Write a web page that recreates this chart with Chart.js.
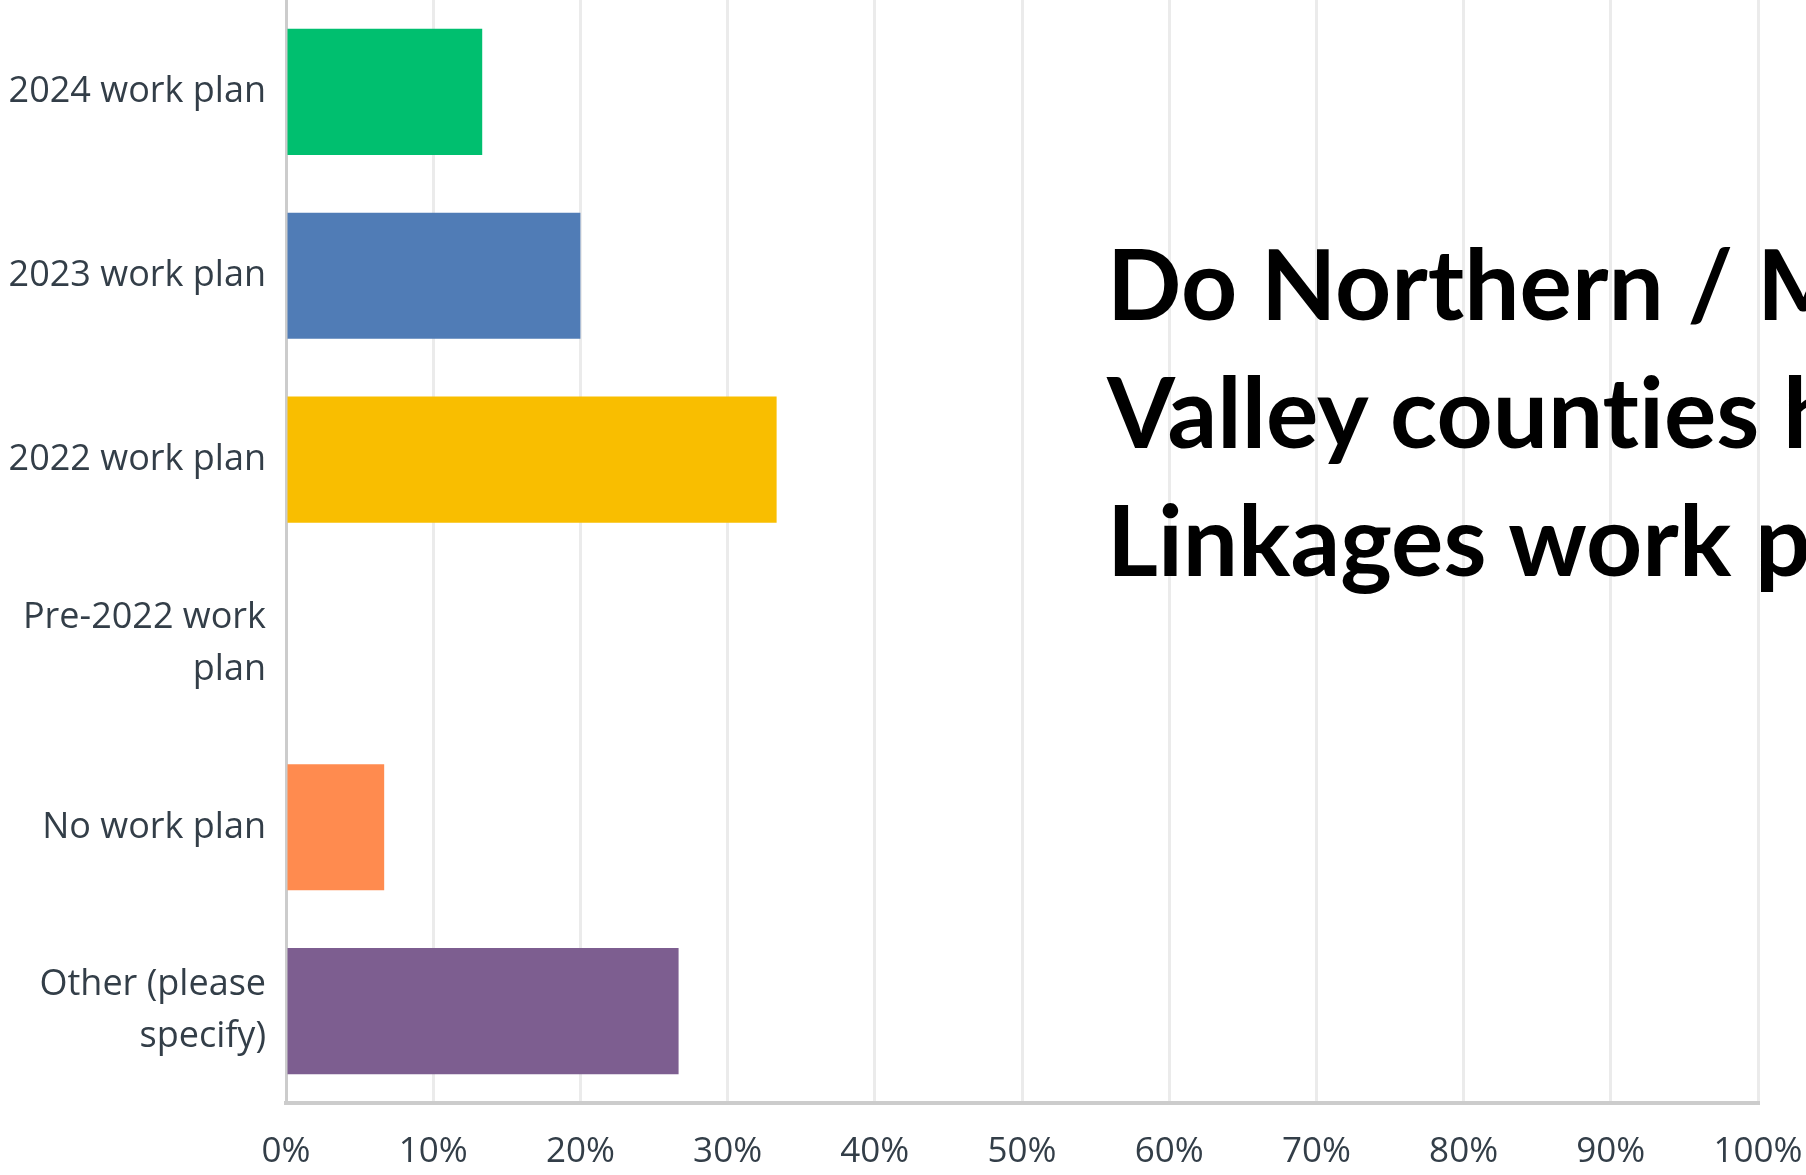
<!DOCTYPE html>
<html>
<head>
<meta charset="utf-8">
<script src="https://cdn.jsdelivr.net/npm/chart.js@4/dist/chart.umd.min.js"></script>
<style>
    html, body { margin: 0; padding: 0; background: #fff; overflow: hidden; }
    #wrap { position: relative; width: 1806px; height: 1175px; overflow: hidden; }
    #title {
        position: absolute;
        left: 1107px;
        top: 218px;
        font-family: Lato, 'Open Sans', sans-serif;
        font-weight: 700;
        font-size: 98px;
        line-height: 128px;
        font-variant-ligatures: none;
        color: #000;
        white-space: nowrap;
        pointer-events: none;
    }
</style>
</head>
<body>
<div id="wrap">
    <canvas id="chart" width="1806" height="1175"></canvas>
    <div id="title">Do Northern / Mountain<br>Valley counties have<br>Linkages work plan</div>
</div>
<script>
// Answer choices, top to bottom
const categories = [
    '2024 work plan',
    '2023 work plan',
    '2022 work plan',
    ['Pre-2022 work', 'plan'],
    'No work plan',
    ['Other (please', 'specify)']
];

// Share of responses (%)
const percentages = [13.33, 20.00, 33.33, 0, 6.67, 26.67];

const barColors = ['#00bf6f', '#507cb6', '#f9be00', '#6bc8cd', '#ff8b4f', '#7d5e90'];

const xTickLabels = ['0%', '10%', '20%', '30%', '40%', '50%', '60%', '70%', '80%', '90%', '100%'];

const labelColor = '#333e48';

new Chart(document.getElementById('chart'), {
    type: 'bar',
    data: {
        labels: categories,
        datasets: [{
            data: percentages,
            backgroundColor: barColors,
            borderWidth: 0,
            categoryPercentage: 1,
            barPercentage: 0.686
        }]
    },
    options: {
        indexAxis: 'y',
        responsive: false,
        animation: false,
        devicePixelRatio: 1,
        layout: { padding: 0 },
        plugins: {
            legend: { display: false },
            tooltip: { enabled: false }
        },
        scales: {
            x: {
                min: 0,
                max: 100,
                ticks: {
                    stepSize: 10,
                    color: labelColor,
                    font: { family: "'Open Sans', sans-serif", size: 35 },
                    padding: 28,
                    maxRotation: 0,
                    callback: (v, i) => xTickLabels[i]
                },
                grid: { color: '#ebebeb', lineWidth: 3, drawTicks: false },
                border: { color: '#cccccc', width: 4 },
                afterFit: s => {
                    s.height = 72;
                    s.paddingLeft = 0;
                    s.paddingRight = 48;
                }
            },
            y: {
                ticks: {
                    color: labelColor,
                    font: { family: "'Open Sans', sans-serif", size: 36, lineHeight: 1.45 },
                    padding: 20
                },
                grid: { display: false, drawTicks: false },
                border: { color: '#cccccc', width: 3 },
                afterFit: s => {
                    s.width = 286;
                    s.paddingTop = 0;
                    s.paddingBottom = 0;
                }
            }
        }
    }
});
</script>
</body>
</html>
